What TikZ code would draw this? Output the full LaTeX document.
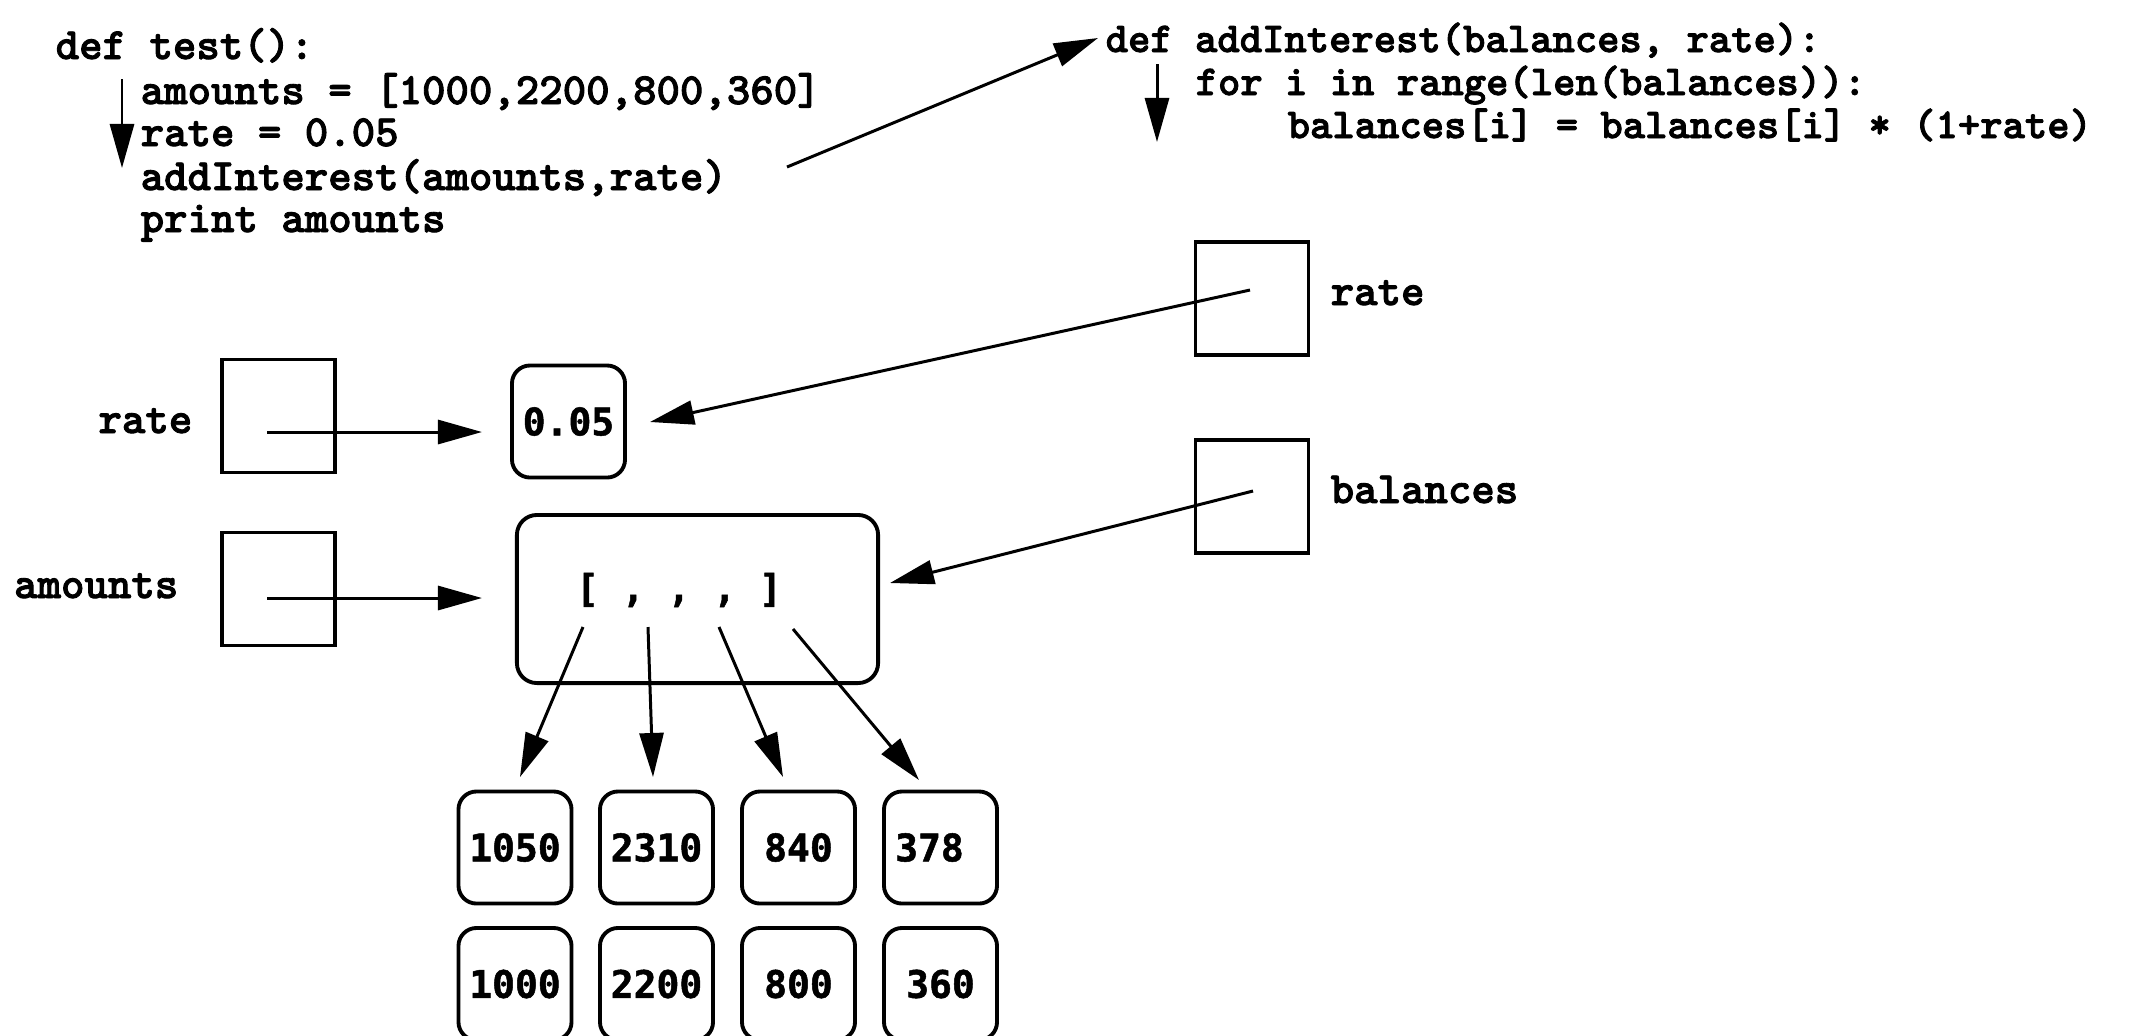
\documentclass[tikz,border=0pt]{standalone}
\usepackage{fontspec}
\newfontfamily\codef{lmmonolt10-bold.otf}[FakeBold=2]
\newfontfamily\valf{DejaVu Sans Mono Bold}[FakeBold=1.3]
\usetikzlibrary{arrows.meta}
\tikzset{
  code/.style={font=\codef\fontsize{12.7}{15}\selectfont, anchor=base west, inner sep=0pt},
  rcode/.style={font=\codef\fontsize{12.1}{15}\selectfont, anchor=base west, inner sep=0pt},
  var/.style={draw, line width=0.9pt, minimum width=1.13cm, minimum height=1.13cm, inner sep=0pt},
  valtxt/.style={font=\valf\fontsize{10.8}{13}\selectfont},
  val/.style={draw, line width=1.1pt, rounded corners=0.18cm, minimum width=1.13cm, minimum height=1.12cm, inner sep=0pt, valtxt},
  arr/.style={line width=0.85pt, -{Triangle[length=0.44cm,width=0.24cm]}},
}
\begin{document}
\begin{tikzpicture}[x=0.01cm, y=-0.01cm]
\useasboundingbox[fill=white] (0,0) rectangle (2145,1035);
\clip (0,0) rectangle (2145,1035);

% left code
\node[code] (c1) at (55,59) {def test():};
\node[code] (c2) at (140,104) {amounts = [1000,2200,800,360]};
\node[code] (c3) at (140,146) {rate = 0.05};
\node[code] (c4) at (140,190) {addInterest(amounts,rate)};
\node[code] (c5) at (140,232) {print amounts};
\coordinate (la1) at (122,79);
\coordinate (la2) at (122,168);
\draw[arr] (la1) -- (la2);

% right code
\node[rcode] (d1) at (1105,52) {def addInterest(balances, rate):};
\node[rcode] (d2) at (1195,95) {for i in range(len(balances)):};
\node[rcode] (d3) at (1287,138) {balances[i] = balances[i] * (1+rate)};
\coordinate (ra1) at (1157,64);
\coordinate (ra2) at (1157,142);
\draw[arr] (ra1) -- (ra2);

% call arrow
\coordinate (call1) at (787,167);
\coordinate (call2) at (1098,38);
\draw[arr] (call1) -- (call2);

% left variables
\node[var] (rateL) at (278.5,416) {};
\node[var] (amtL) at (278.5,589) {};
\node[code, anchor=base east] (rateLlbl) at (193,433) {rate};
\node[code, anchor=base east] (amtLlbl) at (179,598) {amounts};
\coordinate (rateLs) at (267,432);
\coordinate (amtLs) at (267,598);

% values
\node[val] (v005) at (568.5,421.5) {0.05};
\node[draw, line width=1.1pt, rounded corners=0.2cm, minimum width=3.61cm, minimum height=1.68cm, inner sep=0pt] (lst) at (697.5,599) {};
\node[valtxt, inner sep=0pt] (lsttxt) at (679,590) {[ , , , ]};

\draw[arr] (rateLs) -- (482,432) coordinate (rateLe);
\draw[arr] (amtLs) -- (482,598) coordinate (amtLe);

% right variables
\node[var] (rateR) at (1252,298.5) {};
\node[var] (balR) at (1252,496.5) {};
\node[code] (rateRlbl) at (1330,305) {rate};
\node[code] (balRlbl) at (1330,503) {balances};
\coordinate (rateRs) at (1250,290);
\coordinate (balRs) at (1253,491);
\coordinate (rateRe) at (650,422);
\coordinate (balRe) at (890,583);
\draw[arr] (rateRs) -- (rateRe);
\draw[arr] (balRs) -- (balRe);

% element values
\node[val] (n1) at (515,847.5) {1050};
\node[val] (n2) at (656.5,847.5) {2310};
\node[val] (n3) at (798.5,847.5) {840};
\node[val] (n4) at (940.5,847.5) {378\hspace*{0.22cm}};
\node[val] (o1) at (515,984) {1000};
\node[val] (o2) at (656.5,984) {2200};
\node[val] (o3) at (798.5,984) {800};
\node[val] (o4) at (940.5,984) {360};

\coordinate (e1) at (583,627);
\coordinate (e2) at (648,627);
\coordinate (e3) at (719,627);
\coordinate (e4) at (793,629);
\draw[arr] (e1) -- (520,777) coordinate (t1);
\draw[arr] (e2) -- (653,777) coordinate (t2);
\draw[arr] (e3) -- (783,777) coordinate (t3);
\draw[arr] (e4) -- (919,780) coordinate (t4);
\end{tikzpicture}
\end{document}
